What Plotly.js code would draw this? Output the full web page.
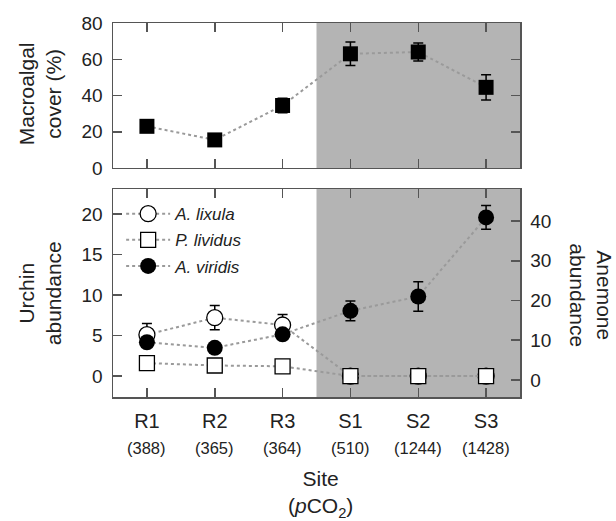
<!DOCTYPE html>
<html><head><meta charset="utf-8">
<script src="https://cdn.plot.ly/plotly-3.0.1.min.js"></script>
<style>html,body{margin:0;padding:0;background:#fff}#c{width:616px;height:521px}</style>
</head><body><div id="c"></div>
<script>
const sites = ['R1','R2','R3','S1','S2','S3'];
const pco2 = ['(388)','(365)','(364)','(510)','(1244)','(1428)'];
const macroalgal = [23, 15.5, 34.5, 63, 64, 44.5];
const macroalgalErr = [3, 2, 4, 6.5, 5, 7];
const lixula = [5.1, 7.2, 6.3, 0, 0, 0];
const lixulaErr = [1.4, 1.5, 1.3, 0, 0, 0];
const lividus = [1.6, 1.3, 1.2, 0, 0, 0];
const lividusErr = [0.3, 0.3, 0.3, 0, 0, 0];
const viridis = [9.5, 8.1, 11.5, 17.4, 21, 40.9];
const viridisErr = [1, 1, 1, 2.5, 3.7, 3];

const txt = '#222';
const axc = '#555';
const fnt = 'Liberation Sans, Arial, sans-serif';
const dotLine = {color:'#9a9a9a', width:2, dash:'dot'};
const eb = (a)=>({type:'data', array:a, visible:true, color:'#000', thickness:1.5, width:5});

const traces = [
  {x:sites, y:macroalgal, xaxis:'x', yaxis:'y', mode:'lines+markers', showlegend:false,
   line:dotLine, marker:{symbol:'square', size:15, color:'#000'}, error_y:eb(macroalgalErr)},
  {x:sites, y:lixula, xaxis:'x2', yaxis:'y2', mode:'lines+markers', name:'A. lixula', legendgroup:'a',
   line:dotLine, marker:{symbol:'circle', size:16, color:'#fff', line:{color:'#000', width:1.3}}, error_y:eb(lixulaErr)},
  {x:sites, y:lividus, xaxis:'x2', yaxis:'y2', mode:'lines+markers', name:'P. lividus', legendgroup:'b',
   line:dotLine, marker:{symbol:'square', size:15, color:'#fff', line:{color:'#000', width:1.3}}, error_y:eb(lividusErr)},
  {x:sites, y:viridis, xaxis:'x2', yaxis:'y3', mode:'lines+markers', name:'A. viridis', legendgroup:'c',
   line:dotLine, marker:{symbol:'circle', size:16, color:'#000'}, error_y:eb(viridisErr)}
];

const axBase = {showline:true, linecolor:axc, linewidth:1.5, ticks:'inside', ticklen:9, tickwidth:1.5,
  tickcolor:axc, showgrid:false, zeroline:false, tickfont:{family:fnt, size:19, color:txt}};

const ann = (o)=>Object.assign({showarrow:false, xanchor:'center', yanchor:'middle', xref:'paper', yref:'paper'}, o);
const annotations = [];
pco2.forEach((p,i)=>annotations.push(ann({x:sites[i], xref:'x2', y:-0.136, text:p,
  font:{family:fnt, size:16.5, color:txt}})));
annotations.push(ann({x:0.511, y:-0.259, text:'Site<br>(<i>p</i>CO<sub>2</sub>)',
  font:{family:fnt, size:21, color:txt}}));
annotations.push(ann({x:-0.179, y:0.81, text:'Macroalgal<br>cover (%)', textangle:-90,
  font:{family:fnt, size:21, color:txt}}));
annotations.push(ann({x:-0.179, y:0.278, text:'Urchin<br>abundance', textangle:-90,
  font:{family:fnt, size:21, color:txt}}));
annotations.push(ann({x:1.1744, y:0.272, text:'Anemone<br>abundance', textangle:90,
  font:{family:fnt, size:21, color:txt}}));

const layout = {
  width:616, height:521, paper_bgcolor:'#fff', plot_bgcolor:'rgba(0,0,0,0)',
  margin:{l:113, r:96, t:23, b:124},
  font:{family:fnt, color:txt},
  xaxis:Object.assign({}, axBase, {anchor:'y', domain:[0,1], mirror:'ticks', showticklabels:false,
    type:'category', range:[-0.5,5.5]}),
  yaxis:Object.assign({}, axBase, {domain:[0.6123,1], range:[0,80], tickvals:[0,20,40,60,80], mirror:'ticks',
    ticklabelstandoff:5}),
  xaxis2:Object.assign({}, axBase, {anchor:'y2', domain:[0,1], mirror:'ticks', type:'category',
    range:[-0.5,5.5], ticklabelstandoff:5, tickfont:{family:fnt, size:20, color:txt}}),
  yaxis2:Object.assign({}, axBase, {domain:[0,0.5561], range:[-2.59,23.09], tickvals:[0,5,10,15,20], mirror:true,
    ticklabelstandoff:5}),
  yaxis3:Object.assign({}, axBase, {overlaying:'y2', side:'right', range:[-4.28,48.05], tickvals:[0,10,20,30,40],
    ticklabelstandoff:5}),
  shapes:[
    {type:'rect', xref:'x', yref:'y domain', x0:2.5, x1:5.5, y0:0, y1:1, fillcolor:'#b4b4b4', line:{width:0}, layer:'below'},
    {type:'rect', xref:'x2', yref:'y2 domain', x0:2.5, x1:5.5, y0:0, y1:1, fillcolor:'#b4b4b4', line:{width:0}, layer:'below'}
  ],
  annotations:annotations,
  showlegend:true,
  legend:{x:0.02, xanchor:'left', y:0.537, yanchor:'top', bgcolor:'rgba(0,0,0,0)', traceorder:'grouped',
    tracegroupgap:1, itemwidth:44, font:{family:fnt, size:17, color:txt, style:'italic'}}
};

Plotly.newPlot('c', traces, layout, {displayModeBar:false, staticPlot:true});
</script></body></html>
